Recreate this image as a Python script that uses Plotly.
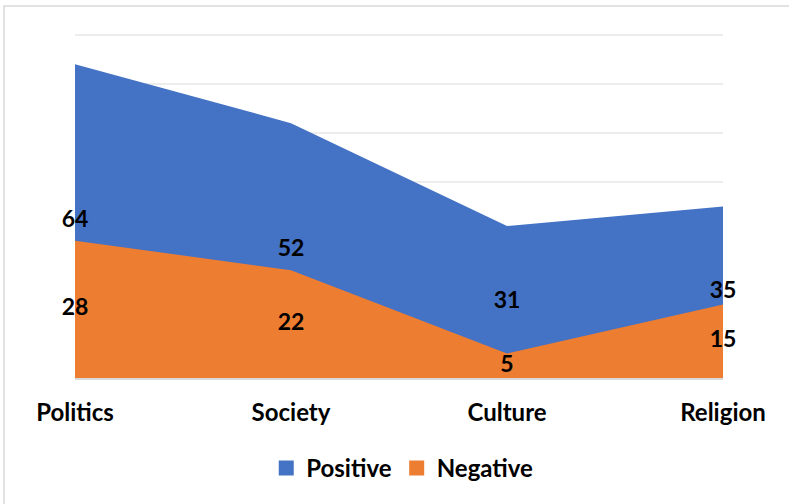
import plotly.graph_objects as go

# Data
categories = ['Politics', 'Society', 'Culture', 'Religion']
positive = [64, 52, 31, 35]
negative = [28, 22, 5, 15]

COLORS = {
    'positive': '#4472C4',
    'negative': '#ED7D31',
    'grid': '#EDEDED',
    'axis': '#D9D9D9',
}
FONT = 'Lato, "Open Sans", sans-serif'

fig = go.Figure()

# overlapping (not stacked) areas: positive behind, negative in front
for vals, key in [(positive, 'positive'), (negative, 'negative')]:
    fig.add_trace(go.Scatter(
        x=categories, y=vals, mode='none', fill='tozeroy',
        fillcolor=COLORS[key], showlegend=False, hoverinfo='skip'
    ))

# data labels sit at mid height of each area, like Excel does
for vals in [positive, negative]:
    fig.add_trace(go.Scatter(
        x=categories, y=[v / 2 for v in vals], mode='text',
        text=[str(v) for v in vals], textposition='middle center',
        textfont=dict(family=FONT, size=23, color='black', weight='bold'),
        cliponaxis=False, showlegend=False, hoverinfo='skip'
    ))

# legend entries as square markers
for name, key in [('Positive', 'positive'), ('Negative', 'negative')]:
    fig.add_trace(go.Scatter(
        x=[None], y=[None], mode='markers', name=name,
        marker=dict(symbol='square', size=15, color=COLORS[key])
    ))

fig.update_layout(
    width=789, height=504,
    margin=dict(l=75, r=66, t=30, b=126),
    plot_bgcolor='white', paper_bgcolor='white',
    font=dict(family=FONT, size=23, color='black', weight='bold'),
    showlegend=True,
    legend=dict(orientation='h', x=0.505, xanchor='center', y=-0.26, yanchor='middle',
                font=dict(family=FONT, size=24, color='black', weight='bold'),
                itemwidth=30, tracegroupgap=0),
    xaxis=dict(type='category', range=[0, 3], showgrid=False, showline=True,
               linecolor=COLORS['axis'], linewidth=1.5, ticks='', ticklabelstandoff=12,
               tickfont=dict(family=FONT, size=24, color='black', weight='bold')),
    yaxis=dict(range=[0, 71], dtick=10, showgrid=True, gridcolor=COLORS['grid'],
               gridwidth=1.5, zeroline=False, showticklabels=False),
    shapes=[dict(type='rect', xref='paper', yref='paper',
                 x0=-0.1096, y0=-1, x1=2, y1=1.069,
                 line=dict(color=COLORS['axis'], width=1.5), layer='above')],
)

# page body has a default 8px margin; drop it so the figure sits at 0,0
fig.write_html("out.html", config={'displayModeBar': False},
               post_script="document.body.style.margin='0';")
